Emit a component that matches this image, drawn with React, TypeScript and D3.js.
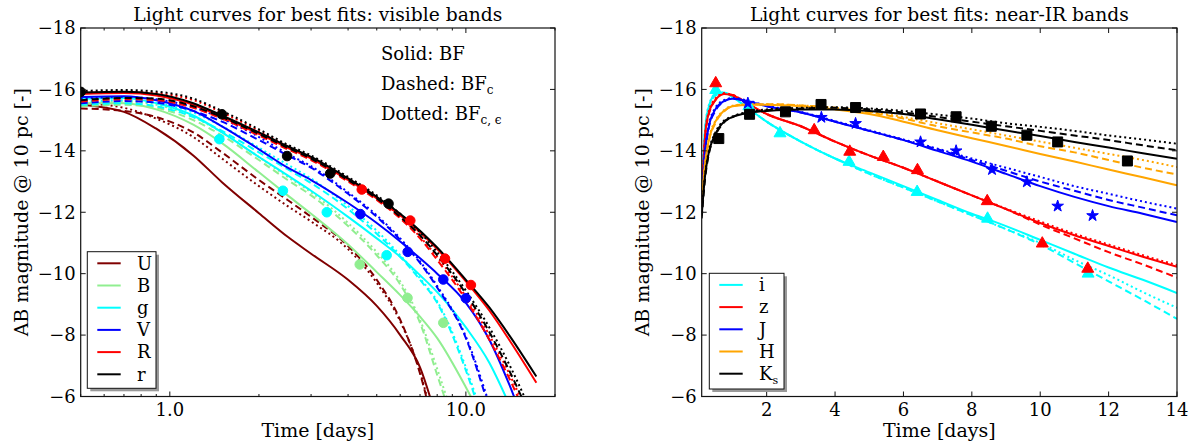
import React from 'react';
import * as d3 from 'd3';

const W = 1194;
const H = 444;
const FONT = '"DejaVu Serif", serif';
const Y_TOP = 28;
const Y_BOT = 396.5;

// ---- visible bands (left) ----
const TIME_L = [0.5, 0.7, 0.9, 1.2, 1.5, 2, 2.5, 3, 4, 5, 6, 7, 8, 10, 12, 14, 17.3];

const U_SOLID = [-15.5, -15.27, -14.72, -13.85, -12.98, -11.97, -11.2, -10.65, -9.8, -8.95, -8.0, -6.95, -5.2, null, null, null, null];
const U_DASHED = [-15.38, -15.3, -15.1, -14.6, -13.95, -13.05, -12.4, -11.85, -10.9, -9.8, -8.5, -6.75, -4.5, null, null, null, null];
const U_DOTTED = [-15.55, -15.4, -15.05, -14.45, -13.75, -12.85, -12.2, -11.7, -10.8, -9.7, -8.45, -6.8, -4.6, null, null, null, null];

const B_SOLID = [-15.55, -15.55, -15.35, -14.85, -14.25, -13.3, -12.55, -11.95, -10.95, -10.05, -9.3, -8.6, -7.9, -6.3, -4.8, null, null];
const B_DASHED = [-15.45, -15.5, -15.4, -15.0, -14.5, -13.7, -13.05, -12.55, -11.55, -10.6, -9.65, -8.4, -6.7, -3.9, null, null, null];
const B_DOTTED = [-15.55, -15.6, -15.5, -15.1, -14.6, -13.8, -13.15, -12.65, -11.65, -10.7, -9.75, -8.5, -6.9, -4.0, null, null, null];

const G_SOLID = [-15.7, -15.72, -15.55, -15.15, -14.6, -13.8, -13.2, -12.7, -11.85, -11.15, -10.55, -9.95, -9.4, -8.25, -7.1, -5.75, null];
const G_DASHED = [-15.5, -15.55, -15.45, -15.1, -14.65, -13.95, -13.4, -12.95, -12.1, -11.3, -10.55, -9.8, -9.05, -6.85, -4.5, null, null];
const G_DOTTED = [-15.6, -15.65, -15.55, -15.25, -14.8, -14.1, -13.55, -13.1, -12.2, -11.4, -10.6, -9.85, -9.1, -6.95, -4.6, null, null];

const V_SOLID = [-15.75, -15.78, -15.65, -15.3, -14.8, -14.05, -13.45, -13.05, -12.3, -11.65, -11.05, -10.5, -10.0, -9.05, -7.85, -6.4, -4.0];
const V_DASHED = [-15.55, -15.62, -15.57, -15.3, -14.95, -14.35, -13.85, -13.45, -12.6, -11.85, -11.1, -10.35, -9.55, -7.9, -5.6, null, null];
const V_DOTTED = [-15.7, -15.75, -15.68, -15.42, -15.05, -14.45, -13.9, -13.5, -12.65, -11.9, -11.15, -10.4, -9.6, -7.95, -5.75, null, null];

const RR_SOLID = [-15.85, -15.88, -15.8, -15.5, -15.1, -14.55, -14.1, -13.75, -13.05, -12.45, -11.9, -11.35, -10.8, -9.75, -8.8, -7.85, -6.45];
const RR_DASHED = [-15.6, -15.68, -15.65, -15.4, -15.05, -14.5, -14.05, -13.7, -13.0, -12.4, -11.8, -11.15, -10.45, -9.15, -7.85, -6.6, -4.6];
const RR_DOTTED = [-15.9, -15.93, -15.88, -15.65, -15.25, -14.65, -14.15, -13.8, -13.1, -12.5, -11.85, -11.2, -10.55, -9.25, -8.0, -6.75, -4.8];

const R_SOLID = [-15.9, -15.92, -15.85, -15.55, -15.15, -14.6, -14.15, -13.8, -13.1, -12.5, -11.95, -11.4, -10.85, -9.8, -8.9, -8.0, -6.65];
const R_DASHED = [-15.65, -15.72, -15.7, -15.45, -15.1, -14.55, -14.1, -13.75, -13.05, -12.45, -11.85, -11.25, -10.6, -9.35, -8.1, -6.85, -4.9];
const R_DOTTED = [-15.95, -15.98, -15.93, -15.7, -15.3, -14.7, -14.2, -13.85, -13.15, -12.55, -11.95, -11.35, -10.7, -9.45, -8.25, -7.05, -5.1];

// observed points, visible
const OBS_R_T = [0.5, 1.5, 2.49, 3.48, 5.48];
const OBS_R_M = [-15.92, -15.19, -13.83, -13.26, -12.28];
const OBS_RR_T = [4.45, 6.49, 8.5, 10.4];
const OBS_RR_M = [-12.74, -11.73, -10.49, -9.63];
const OBS_V_T = [4.4, 6.36, 8.39, 10.0];
const OBS_V_M = [-11.94, -10.71, -9.81, -9.2];
const OBS_G_T = [1.47, 2.41, 3.39, 5.4];
const OBS_G_M = [-14.38, -12.7, -12.0, -10.6];
const OBS_B_T = [4.38, 6.35, 8.39];
const OBS_B_M = [-10.3, -9.21, -8.4];

// ---- near-IR bands (right) ----
const TIME_R = [0.1, 0.2, 0.3, 0.5, 0.75, 1, 1.5, 2, 3, 4, 5, 6, 7, 8, 9, 10, 11, 12, 13, 14];

const I_SOLID = [-12.6, -14.7, -15.4, -15.85, -15.9, -15.75, -15.35, -14.95, -14.3, -13.75, -13.3, -12.85, -12.4, -11.95, -11.55, -11.1, -10.65, -10.2, -9.8, -9.37];
const I_DASHED = [-12.5, -14.6, -15.35, -15.8, -15.88, -15.75, -15.35, -14.95, -14.3, -13.75, -13.25, -12.8, -12.35, -11.9, -11.45, -10.95, -10.35, -9.75, -9.15, -8.53];
const I_DOTTED = [-12.7, -14.75, -15.45, -15.85, -15.9, -15.75, -15.35, -14.95, -14.3, -13.75, -13.25, -12.8, -12.35, -11.9, -11.45, -11.0, -10.45, -9.95, -9.4, -8.89];

const Z_SOLID = [-12.4, -14.5, -15.2, -15.65, -15.85, -15.8, -15.5, -15.2, -14.8, -14.3, -13.85, -13.45, -13.0, -12.55, -12.1, -11.65, -11.25, -10.9, -10.55, -10.22];
const Z_DASHED = [-12.3, -14.4, -15.15, -15.65, -15.85, -15.82, -15.5, -15.2, -14.8, -14.3, -13.85, -13.45, -13.0, -12.55, -12.1, -11.6, -11.15, -10.7, -10.3, -9.87];
const Z_DOTTED = [-12.5, -14.55, -15.25, -15.7, -15.88, -15.82, -15.5, -15.2, -14.8, -14.3, -13.85, -13.45, -13.0, -12.55, -12.12, -11.7, -11.3, -10.95, -10.6, -10.28];

const J_SOLID = [-12.3, -14.0, -14.75, -15.35, -15.62, -15.7, -15.6, -15.45, -15.25, -14.95, -14.65, -14.35, -14.0, -13.65, -13.25, -12.85, -12.5, -12.2, -11.95, -11.68];
const J_DASHED = [-12.2, -13.9, -14.7, -15.3, -15.6, -15.7, -15.6, -15.45, -15.25, -14.95, -14.65, -14.35, -14.05, -13.7, -13.35, -13.0, -12.7, -12.4, -12.15, -11.9];
const J_DOTTED = [-12.4, -14.05, -14.8, -15.4, -15.65, -15.72, -15.62, -15.47, -15.27, -14.97, -14.67, -14.37, -14.07, -13.75, -13.45, -13.15, -12.85, -12.6, -12.35, -12.12];

const H_SOLID = [-12.3, -13.6, -14.3, -14.95, -15.3, -15.45, -15.5, -15.5, -15.45, -15.35, -15.2, -14.95, -14.67, -14.41, -14.16, -13.9, -13.65, -13.39, -13.14, -12.88];
const H_DASHED = [-12.2, -13.5, -14.25, -14.9, -15.28, -15.45, -15.52, -15.52, -15.48, -15.4, -15.25, -15.05, -14.8, -14.6, -14.4, -14.15, -13.95, -13.7, -13.45, -13.23];
const H_DOTTED = [-12.35, -13.65, -14.35, -14.98, -15.32, -15.47, -15.52, -15.52, -15.48, -15.4, -15.28, -15.1, -14.9, -14.7, -14.5, -14.3, -14.1, -13.9, -13.7, -13.47];

const K_SOLID = [-11.9, -13.2, -13.9, -14.55, -14.95, -15.1, -15.25, -15.3, -15.35, -15.35, -15.3, -15.2, -15.03, -14.85, -14.66, -14.48, -14.29, -14.11, -13.92, -13.74];
const K_DASHED = [-11.8, -13.1, -13.85, -14.5, -14.92, -15.1, -15.25, -15.32, -15.38, -15.4, -15.35, -15.25, -15.1, -14.95, -14.8, -14.65, -14.5, -14.35, -14.18, -14.02];
const K_DOTTED = [-12.0, -13.25, -13.95, -14.6, -14.98, -15.12, -15.28, -15.35, -15.4, -15.42, -15.38, -15.3, -15.18, -15.05, -14.9, -14.78, -14.65, -14.5, -14.37, -14.23];

// observed points, near-IR
const OBS_I_T = [0.51, 1.48, 2.39, 4.41, 6.4, 8.46, 11.4];
const OBS_I_M = [-15.98, -15.45, -14.57, -13.64, -12.66, -11.79, -10.0];
const OBS_Z_T = [0.51, 3.39, 4.43, 5.41, 6.41, 8.45, 10.06, 11.39];
const OBS_Z_M = [-16.2, -14.67, -13.97, -13.8, -13.37, -12.36, -10.98, -10.16];
const OBS_J_T = [1.45, 3.6, 4.6, 6.5, 7.54, 8.59, 9.61, 10.51, 11.53];
const OBS_J_M = [-15.55, -15.09, -14.89, -14.29, -14.0, -13.39, -12.99, -12.2, -11.89];
const OBS_K_T = [0.6, 1.5, 2.55, 3.59, 4.6, 6.5, 7.54, 8.57, 9.61, 10.51, 12.55];
const OBS_K_M = [-14.4, -15.19, -15.27, -15.51, -15.41, -15.2, -15.11, -14.8, -14.51, -14.29, -13.67];

type Val = number | null;
type Band = {
  name: string; sub?: string; color: string;
  solid: Val[]; dashed: Val[]; dotted: Val[];
  obsT?: number[]; obsM?: number[]; marker?: d3.SymbolType; size?: number;
};

const LEFT_BANDS: Band[] = [
  { name: 'U', color: '#800000', solid: U_SOLID, dashed: U_DASHED, dotted: U_DOTTED },
  { name: 'B', color: '#90ee90', solid: B_SOLID, dashed: B_DASHED, dotted: B_DOTTED, obsT: OBS_B_T, obsM: OBS_B_M, marker: d3.symbolCircle, size: 72 },
  { name: 'g', color: '#00ffff', solid: G_SOLID, dashed: G_DASHED, dotted: G_DOTTED, obsT: OBS_G_T, obsM: OBS_G_M, marker: d3.symbolCircle, size: 72 },
  { name: 'V', color: '#0000ff', solid: V_SOLID, dashed: V_DASHED, dotted: V_DOTTED, obsT: OBS_V_T, obsM: OBS_V_M, marker: d3.symbolCircle, size: 72 },
  { name: 'R', color: '#ff0000', solid: RR_SOLID, dashed: RR_DASHED, dotted: RR_DOTTED, obsT: OBS_RR_T, obsM: OBS_RR_M, marker: d3.symbolCircle, size: 72 },
  { name: 'r', color: '#000000', solid: R_SOLID, dashed: R_DASHED, dotted: R_DOTTED, obsT: OBS_R_T, obsM: OBS_R_M, marker: d3.symbolCircle, size: 72 },
];

const RIGHT_BANDS: Band[] = [
  { name: 'i', color: '#00ffff', solid: I_SOLID, dashed: I_DASHED, dotted: I_DOTTED, obsT: OBS_I_T, obsM: OBS_I_M, marker: d3.symbolTriangle, size: 62 },
  { name: 'z', color: '#ff0000', solid: Z_SOLID, dashed: Z_DASHED, dotted: Z_DOTTED, obsT: OBS_Z_T, obsM: OBS_Z_M, marker: d3.symbolTriangle, size: 62 },
  { name: 'J', color: '#0000ff', solid: J_SOLID, dashed: J_DASHED, dotted: J_DOTTED, obsT: OBS_J_T, obsM: OBS_J_M, marker: d3.symbolStar, size: 42 },
  { name: 'H', color: '#ffa500', solid: H_SOLID, dashed: H_DASHED, dotted: H_DOTTED },
  { name: 'K', sub: 's', color: '#000000', solid: K_SOLID, dashed: K_DASHED, dotted: K_DOTTED, obsT: OBS_K_T, obsM: OBS_K_M, marker: d3.symbolSquare, size: 100 },
];

const fmtY = d3.format('d');

type PanelProps = {
  id: string;
  x: any;
  xTicks: number[];
  isMajor: (t: number) => boolean;
  fmtX: (t: number) => string;
  times: number[];
  bands: Band[];
  title: string;
  yLabelX: number;
  legend: { x: number; y: number; w: number; h: number };
  children?: React.ReactNode;
};

function Panel({ id, x, xTicks, isMajor, fmtX, times, bands, title, yLabelX, legend, children }: PanelProps) {
  const [x0, x1] = x.range();
  const y = d3.scaleLinear().domain([-18, -6]).range([Y_TOP, Y_BOT]);
  const yTicks = y.ticks(6);
  const line = d3.line<Val>()
    .defined(v => v != null)
    .x((_, i) => x(times[i]))
    .y(v => y(v as number))
    .curve(d3.curveMonotoneX);
  const styles: [keyof Band, string | undefined][] = [
    ['solid', undefined],
    ['dashed', '7,4'],
    ['dotted', '2,3'],
  ];
  const cx = (x0 + x1) / 2;
  const rowH = 22.2;
  return (
    <g>
      <defs>
        <clipPath id={id}>
          <rect x={x0} y={Y_TOP} width={x1 - x0} height={Y_BOT - Y_TOP} />
        </clipPath>
      </defs>
      <g clipPath={`url(#${id})`}>
        {bands.map(b => styles.map(([k, dash]) => (
          <path key={b.name + k} d={line(b[k] as Val[]) || ''} fill="none"
            stroke={b.color} strokeWidth={2} strokeDasharray={dash} />
        )))}
        {bands.map(b => (b.obsT || []).map((t, i) => (
          <path key={b.name + 'o' + i}
            transform={`translate(${x(t)},${y(b.obsM![i])})`}
            d={d3.symbol().type(b.marker!).size(b.size!)() || ''}
            fill={b.color} stroke={b.color} strokeWidth={1} />
        )))}
      </g>
      {/* frame */}
      <rect x={x0} y={Y_TOP} width={x1 - x0} height={Y_BOT - Y_TOP} fill="none" stroke="#111" strokeWidth={1.2} />
      {/* x ticks */}
      {xTicks.map((t, i) => {
        const len = isMajor(t) ? 5 : 2.5;
        const px = x(t);
        return (
          <g key={'xt' + i}>
            <line x1={px} x2={px} y1={Y_BOT} y2={Y_BOT - len} stroke="#111" />
            <line x1={px} x2={px} y1={Y_TOP} y2={Y_TOP + len} stroke="#111" />
            {isMajor(t) && (
              <text x={px} y={416} textAnchor="middle" fontSize={18} fontFamily={FONT}>{fmtX(t)}</text>
            )}
          </g>
        );
      })}
      {yTicks.map((v, i) => (
        <g key={'yt' + i}>
          <line x1={x0} x2={x0 + 5} y1={y(v)} y2={y(v)} stroke="#111" />
          <line x1={x1} x2={x1 - 5} y1={y(v)} y2={y(v)} stroke="#111" />
          <text x={x0 - 5} y={y(v)} dy="0.35em" textAnchor="end" fontSize={18} fontFamily={FONT}>{fmtY(v)}</text>
        </g>
      ))}
      <text x={cx} y={21} textAnchor="middle" fontSize={18.7} fontFamily={FONT}>{title}</text>
      <text x={cx} y={437} textAnchor="middle" fontSize={19} fontFamily={FONT}>Time [days]</text>
      <text transform={`translate(${yLabelX},${(Y_TOP + Y_BOT) / 2}) rotate(-90)`} textAnchor="middle"
        dy="0.35em" fontSize={19} fontFamily={FONT}>AB magnitude @ 10 pc [-]</text>
      {/* legend */}
      <rect x={legend.x + 3} y={legend.y + 3} width={legend.w} height={legend.h} fill="#999" />
      <rect x={legend.x} y={legend.y} width={legend.w} height={legend.h} fill="#fff" stroke="#111" strokeWidth={1} />
      {bands.map((b, i) => {
        const ly = legend.y + 11.6 + i * rowH;
        return (
          <g key={'lg' + b.name}>
            <line x1={legend.x + 10} x2={legend.x + 33.4} y1={ly} y2={ly} stroke={b.color} strokeWidth={2} />
            <text x={legend.x + 49.7} y={ly} dy="0.35em" fontSize={18} fontFamily={FONT}>
              {b.name}
              {b.sub && <tspan fontSize={11} dy={4}>{b.sub}</tspan>}
            </text>
          </g>
        );
      })}
      {children}
    </g>
  );
}

export default function App() {
  const xL = d3.scaleLog().domain([0.5, 20]).range([80.7, 555]);
  const xR = d3.scaleLinear().domain([0.1, 14]).range([701.7, 1177]);
  const ticksL = xL.ticks();
  const isMajorL = (t: number) => Math.abs(Math.log10(t) - Math.round(Math.log10(t))) < 1e-9;
  const ticksR = xR.ticks(7);
  return (
    <div style={{ position: 'absolute', left: 0, top: 0 }}>
      <svg width={W} height={H} style={{ display: 'block', background: '#fff' }}>
        <Panel id="clipL" x={xL} xTicks={ticksL} isMajor={isMajorL} fmtX={t => d3.format('.1f')(t)}
          times={TIME_L} bands={LEFT_BANDS} title="Light curves for best fits: visible bands"
          yLabelX={21} legend={{ x: 87.3, y: 251.7, w: 68.7, h: 136.6 }}>
          <text x={381} y={60} fontSize={18} fontFamily={FONT}>Solid: BF</text>
          <text x={381} y={90} fontSize={18} fontFamily={FONT}>Dashed: BF<tspan fontSize={12} dy={4}>c</tspan></text>
          <text x={381} y={120} fontSize={18} fontFamily={FONT}>Dotted: BF<tspan fontSize={12} dy={4}>c, ϵ</tspan></text>
        </Panel>
        <Panel id="clipR" x={xR} xTicks={ticksR} isMajor={() => true} fmtX={t => d3.format('d')(t)}
          times={TIME_R} bands={RIGHT_BANDS} title="Light curves for best fits: near-IR bands"
          yLabelX={642} legend={{ x: 709.3, y: 273.3, w: 74.7, h: 115.7 }} />
      </svg>
    </div>
  );
}
